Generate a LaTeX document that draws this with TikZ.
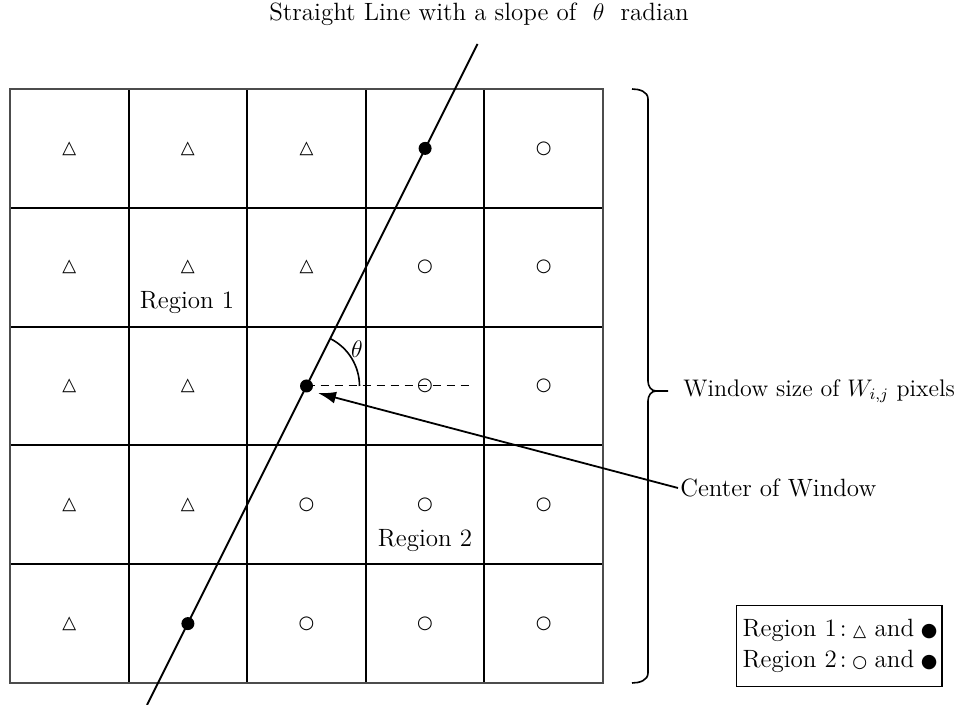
\documentclass[tikz,border=0pt]{standalone}
\usepackage{fontspec}
\newfontfamily\symfont{DejaVu Sans}
\usetikzlibrary{arrows.meta,positioning,calc,decorations.pathreplacing}

\begin{document}
\begin{tikzpicture}[x=0.5pt,y=-0.5pt,>=Latex,
 lbl/.style={font=\fontsize{12.5}{15}\selectfont,inner sep=1pt},
 sym/.style={font=\symfont\fontsize{9}{10}\selectfont,inner sep=0pt},
 dot/.style={circle,fill,inner sep=0pt,minimum size=6.5pt}]
 \useasboundingbox (0,0) rectangle (960,705);
 \foreach \r in {1,...,5}
  \foreach \c in {1,...,5}
   \coordinate (c\r\c) at ({10+118.6*(\c-0.5)},{89+118.8*(\r-0.5)});
 \foreach \k in {1,...,4} {
  \draw[line width=1pt] ({10+118.6*\k},89) -- ({10+118.6*\k},683);
  \draw[line width=1pt] (10,{89+118.8*\k}) -- (603,{89+118.8*\k});
 }
 \draw[gray!60!black,line width=0.8pt] (10,89) rectangle (603,683);
 \foreach \p in {11,12,13,21,22,23,31,32,41,42,51} \node[sym] at (c\p) {△};
 \foreach \p in {15,24,25,34,35,43,44,45,53,54,55} \node[sym] at (c\p) {○};
 \node[dot] (d1) at (c14) {};
 \node[dot] (d2) at (c33) {};
 \node[dot] (d3) at (c52) {};
 \coordinate (ltop) at (477.5,44);
 \coordinate (lbot) at (147,705);
 \draw[line width=0.9pt] (ltop) -- (lbot);
 \coordinate (dend) at (472,386);
 \draw[dashed,dash pattern=on 4pt off 3pt,line width=0.5pt] (d2.center) -- (dend);
 \draw[line width=0.8pt] ($(d2.center)+(53,0)$) arc[start angle=0,end angle=63.4,radius=26.5pt];
 \node[lbl] (th) at (357,349) {$\theta$};
 \node[lbl] (title) at (479,14) {Straight Line with a slope of \ $\theta$ \ radian};
 \node[lbl] (r1) at (187,303) {Region 1};
 \node[lbl] (r2) at (425,541) {Region 2};
 \node[lbl,anchor=west] (cw) at (678,488) {Center of Window};
 \coordinate (ctip) at (318,393);
 \draw[->,>={Latex[length=9pt,width=6pt]},line width=0.9pt] (cw.west) -- (ctip);
 \coordinate (btop) at (632,89);
 \coordinate (bbot) at (632,683);
 \coordinate (bmid) at (656,391);
 \draw[line width=0.8pt] (btop) to[out=0,in=90] (648,99) -- (648,381) to[out=-90,in=180] (bmid) -- (668,391)
  (bmid) to[out=180,in=90] (648,401) -- (648,673) to[out=-90,in=0] (bbot);
 \node[lbl,anchor=west,font=\fontsize{12}{14}\selectfont] (ws) at (681,391) {Window size of $W_{i,j}$ pixels};
 \node[draw,line width=0.7pt,lbl,font=\fontsize{12.5}{15.5}\selectfont,align=left,anchor=west,inner xsep=3pt,inner ysep=7pt] (leg) at (736,646)
 {Region 1\hspace{1.5pt}:\hspace{3pt}\makebox[7pt]{\symfont\fontsize{8.5}{10}\selectfont △}\hspace{4pt}and\hspace{4pt}\makebox[7pt]{\symfont\fontsize{9.5}{12}\selectfont ●}\\
  Region 2\hspace{1.5pt}:\hspace{3pt}\makebox[7pt]{\symfont\fontsize{8.5}{10}\selectfont ○}\hspace{4pt}and\hspace{4pt}\makebox[7pt]{\symfont\fontsize{9.5}{12}\selectfont ●}};
\end{tikzpicture}
\end{document}
